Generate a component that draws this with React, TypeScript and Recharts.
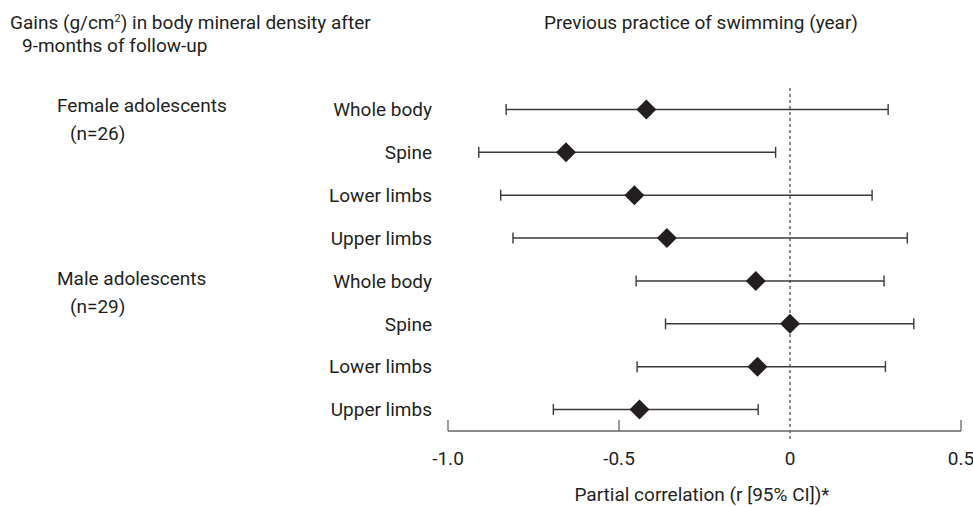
import {
  ScatterChart,
  Scatter,
  XAxis,
  YAxis,
  ErrorBar,
  ReferenceLine,
} from "recharts";

const ROW_LABELS = [
  "Whole body",
  "Spine",
  "Lower limbs",
  "Upper limbs",
  "Whole body",
  "Spine",
  "Lower limbs",
  "Upper limbs",
];
// partial correlation r and its 95% CI, female rows first, then male rows
const POINT_R = [-0.42, -0.655, -0.455, -0.36, -0.1, 0.0, -0.095, -0.44];
const CI_LOW = [-0.83, -0.91, -0.846, -0.81, -0.45, -0.364, -0.447, -0.692];
const CI_HIGH = [0.287, -0.042, 0.24, 0.343, 0.275, 0.362, 0.279, -0.093];

const X_TICKS = [-1, -0.5, 0, 0.5];
const X_TICK_LABELS = ["-1.0", "-0.5", "0", "0.5"];

const INK = "#231f20";
const AXIS = "#666666";

const data = POINT_R.map((r, i) => ({
  row: i,
  r,
  err: [r - CI_LOW[i], CI_HIGH[i] - r],
}));

function XTick({ x, y, payload }: any) {
  const i = X_TICKS.indexOf(payload.value);
  return (
    <g>
      {payload.value !== 0 && (
        <line x1={x} x2={x} y1={y - 11} y2={y} stroke={AXIS} strokeWidth={1.3} />
      )}
      <text
        x={x}
        y={y + 27}
        dy="0.355em"
        textAnchor="middle"
        fontSize={19}
        fill={INK}
      >
        {X_TICK_LABELS[i]}
      </text>
    </g>
  );
}

function Diamond({ cx, cy }: any) {
  const h = 10;
  return (
    <polygon
      points={`${cx},${cy - h} ${cx + h},${cy} ${cx},${cy + h} ${cx - h},${cy}`}
      fill={INK}
    />
  );
}

const textStyle: React.CSSProperties = {
  position: "absolute",
  fontSize: 19,
  lineHeight: "22px",
  color: INK,
  whiteSpace: "nowrap",
};

export default function App() {
  return (
    <div
      style={{
        position: "relative",
        width: 973,
        height: 507,
        fontFamily: "Roboto, sans-serif",
      }}
    >
      <style>{"body{margin:0}"}</style>
      <div style={{ ...textStyle, left: 10, top: 12 }}>
        Gains (g/cm
        <span style={{ fontSize: 11, position: "relative", top: -7 }}>2</span>
        ) in body mineral density after
      </div>
      <div style={{ ...textStyle, left: 22, top: 35 }}>9-months of follow-up</div>
      <div
        style={{ ...textStyle, left: 701, top: 12, transform: "translateX(-50%)" }}
      >
        Previous practice of swimming (year)
      </div>
      <div style={{ ...textStyle, left: 57, top: 95 }}>Female adolescents</div>
      <div style={{ ...textStyle, left: 70, top: 123 }}>(n=26)</div>
      <div style={{ ...textStyle, left: 57, top: 268 }}>Male adolescents</div>
      <div style={{ ...textStyle, left: 70, top: 296 }}>(n=29)</div>
      <div
        style={{ ...textStyle, left: 702, top: 484, transform: "translateX(-50%)" }}
      >
        Partial correlation (r [95% CI])*
      </div>

      <ScatterChart
        width={973}
        height={507}
        margin={{ top: 88, right: 12, bottom: 36, left: 0 }}
      >
        <XAxis
          type="number"
          dataKey="r"
          domain={[-1, 0.5]}
          ticks={X_TICKS}
          tickSize={0}
          tickMargin={0}
          tick={<XTick />}
          axisLine={{ stroke: AXIS, strokeWidth: 1.3 }}
          height={40}
        />
        <YAxis
          type="number"
          dataKey="row"
          domain={[-0.5, 7.5]}
          ticks={[0, 1, 2, 3, 4, 5, 6, 7]}
          interval={0}
          reversed
          width={448}
          tickSize={0}
          tickMargin={16}
          axisLine={false}
          tickLine={false}
          tickFormatter={(v: number) => ROW_LABELS[v]}
          tick={{ fontSize: 19, fill: INK }}
        />
        <ReferenceLine
          segment={[
            { x: 0, y: -0.5 },
            { x: 0, y: 7.75 },
          ]}
          ifOverflow="visible"
          stroke="#8a8a8a"
          strokeWidth={2}
          strokeDasharray="3 3"
        />
        <Scatter data={data} shape={<Diamond />} isAnimationActive={false}>
          <ErrorBar
            dataKey="err"
            direction="x"
            width={5.5}
            stroke="#3a3a3a"
            strokeWidth={1.4}
            isAnimationActive={false}
          />
        </Scatter>
      </ScatterChart>
    </div>
  );
}
